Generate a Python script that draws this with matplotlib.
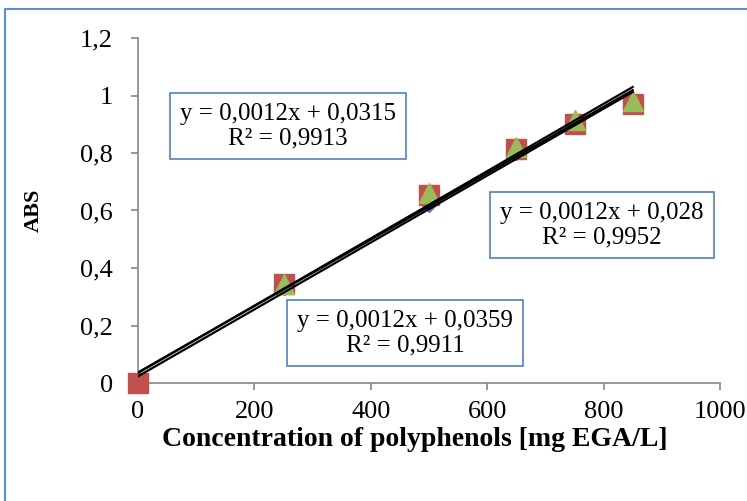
import matplotlib
matplotlib.use('agg')
import matplotlib.pyplot as plt
import numpy as np
from matplotlib.patches import Rectangle
from matplotlib.ticker import FuncFormatter

# data
conc = [0, 250, 500, 650, 750, 850]
abs_blue = [0, 0.33, 0.62, 0.80, 0.905, 0.975]
abs_red = [0, 0.345, 0.655, 0.815, 0.90, 0.97]
abs_green = [0, 0.345, 0.66, 0.82, 0.915, 0.98]
eq_labels = ["y = 0,0012x + 0,0315\nR² = 0,9913",
             "y = 0,0012x + 0,028\nR² = 0,9952",
             "y = 0,0012x + 0,0359\nR² = 0,9911"]

plt.rcParams['font.family'] = ['Liberation Serif', 'DejaVu Serif']

fig = plt.figure(figsize=(7.47, 5.01), dpi=100)
ax = fig.add_axes([138 / 747, 1 - 383 / 501, 582 / 747, 345 / 501])

# outer chart border like Excel
fig.patches.append(Rectangle((5 / 747, -0.1), 1.2, 1 - 9 / 501 + 0.1,
                             transform=fig.transFigure, fill=False,
                             edgecolor='#5B8FD0', linewidth=1.5))

ax.plot(conc, abs_blue, 'D', color='#4F81BD', markersize=7, zorder=3, clip_on=False)
ax.plot(conc, abs_red, 's', color='#C0504D', markersize=15, zorder=3, clip_on=False)
# the green marker at the origin is not visible in the original
ax.plot(conc, abs_green, '^', color='#9BBB59', markersize=14, zorder=4,
        markevery=slice(1, None), clip_on=False)

xs = np.array([0, 850])
for ys in (abs_blue, abs_red, abs_green):
    k, b = np.polyfit(conc, ys, 1)
    ax.plot(xs, k * xs + b, color='black', linewidth=1.6, zorder=5)

ax.set_xlim(0, 1000)
ax.set_ylim(0, 1.2)
ax.set_xticks(range(0, 1001, 200))
ax.set_yticks(np.arange(0, 1.21, 0.2))
ax.yaxis.set_major_formatter(FuncFormatter(lambda v, p: f"{v:g}".replace('.', ',')))
ax.xaxis.set_major_formatter(FuncFormatter(lambda v, p: f"{v:g}"))

for side in ('top', 'right'):
    ax.spines[side].set_visible(False)
for side in ('left', 'bottom'):
    ax.spines[side].set_color('#868686')
    ax.spines[side].set_linewidth(1.2)
ax.tick_params(colors='#868686', labelcolor='black', labelsize=19,
               direction='out', length=5, width=1.2)
ax.tick_params(axis='x', pad=8)
ax.tick_params(axis='y', pad=13)

ax.set_xlabel("Concentration of polyphenols [mg EGA/L]", fontsize=20,
              fontweight='bold', labelpad=3)
ax.xaxis.label.set_x(0.476)
ax.set_ylabel("ABS", fontsize=16, fontweight='bold', labelpad=26)

box_pos = [(288, 126), (602, 225), (405, 333)]
for (px, py), txt in zip(box_pos, eq_labels):
    fig.text(px / 747, 1 - py / 501, txt, ha='center', va='center',
             fontsize=18, linespacing=1.15, zorder=10,
             bbox=dict(boxstyle='square,pad=0.4', facecolor='white',
                       edgecolor='#4F81BD', linewidth=1.2))

fig.savefig('out.png', dpi=100)
